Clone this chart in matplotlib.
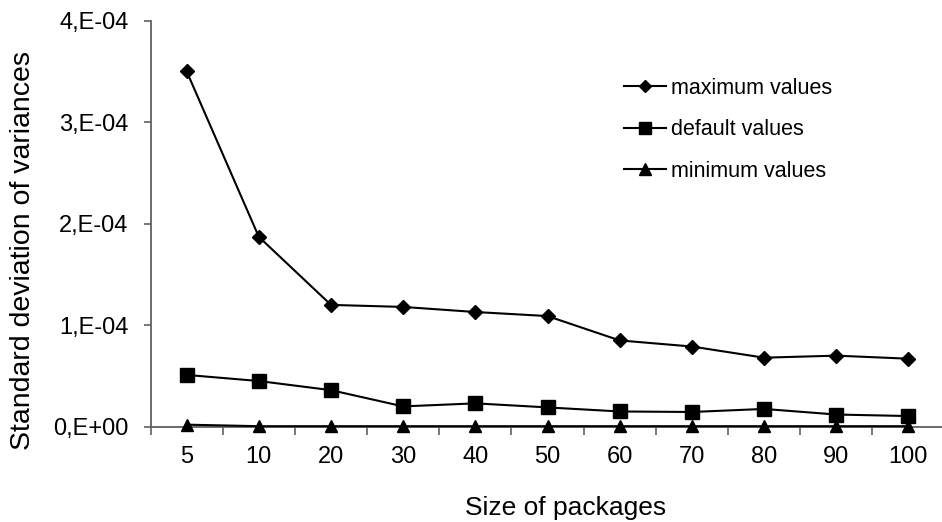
import matplotlib
matplotlib.use("Agg")
import matplotlib.pyplot as plt
from matplotlib.lines import Line2D

plt.rcParams['font.family'] = ['Liberation Sans', 'DejaVu Sans']

categories = ["5", "10", "20", "30", "40", "50", "60", "70", "80", "90", "100"]
max_values = [3.50e-4, 1.87e-4, 1.20e-4, 1.18e-4, 1.13e-4, 1.09e-4, 0.85e-4, 0.79e-4, 0.68e-4, 0.70e-4, 0.67e-4]
default_values = [0.51e-4, 0.45e-4, 0.36e-4, 0.20e-4, 0.23e-4, 0.19e-4, 0.15e-4, 0.145e-4, 0.175e-4, 0.12e-4, 0.105e-4]
min_values = [0.02e-4, 0.005e-4, 0.005e-4, 0.005e-4, 0.005e-4, 0.005e-4, 0.005e-4, 0.005e-4, 0.005e-4, 0.005e-4, 0.005e-4]
y_ticks = [0, 1e-4, 2e-4, 3e-4, 4e-4]
y_tick_labels = ["0,E+00", "1,E-04", "2,E-04", "3,E-04", "4,E-04"]
series_names = ["maximum values", "default values", "minimum values"]

W, H = 942, 522
fig = plt.figure(figsize=(W / 100, H / 100), dpi=100)
left, right, top, bottom = 150.6, 944.4, 20.7, 426.7
ax = fig.add_axes([left / W, 1 - bottom / H, (right - left) / W, (bottom - top) / H])

x = list(range(len(categories)))
ax.plot(x, max_values, color='black', lw=1.5, marker='D', ms=7.5, clip_on=False, zorder=3)
ax.plot(x, default_values, color='black', lw=1.5, marker='s', ms=9.5, clip_on=False, zorder=3)
ax.plot(x, min_values, color='black', lw=1.5, marker='^', ms=9, clip_on=False, zorder=3)

ax.set_xlim(-0.5, len(categories) - 0.5)
ax.set_ylim(0, 4e-4)
ax.set_yticks(y_ticks)
ax.set_yticklabels(y_tick_labels, fontsize=17)

# category boundaries as major ticks, labels as minor ticks
ax.set_xticks([i - 0.5 for i in range(len(categories) + 1)])
ax.set_xticklabels([])
ax.set_xticks(x, minor=True)
ax.set_xticklabels(categories, minor=True, fontsize=17)
ax.tick_params(axis='x', which='minor', length=0, pad=14)
ax.tick_params(axis='x', which='major', length=6, width=1.2, color='#606060', direction='out')
ax.tick_params(axis='y', length=5, width=1.2, color='#606060', direction='out', pad=11)

for s in ['top', 'right']:
    ax.spines[s].set_visible(False)
for s in ['left', 'bottom']:
    ax.spines[s].set_color('#606060')
    ax.spines[s].set_linewidth(1.3)

fig.text(23 / W, 1 - 250 / H, "Standard deviation of variances", rotation=90,
         ha='center', va='center', fontsize=20.5)
fig.text(566 / W, 1 - 508 / H, "Size of packages", ha='center', va='center', fontsize=19)

handles = [
    Line2D([], [], color='black', lw=1.5, marker='D', ms=6),
    Line2D([], [], color='black', lw=1.5, marker='s', ms=8),
    Line2D([], [], color='black', lw=1.5, marker='^', ms=8),
]
leg = fig.legend(handles, series_names, loc='upper left',
                 bbox_to_anchor=(624 / W, 1 - 78 / H), frameon=False,
                 fontsize=15.5, handlelength=1.95, handletextpad=0.25,
                 labelspacing=0.95, borderaxespad=0, borderpad=0)

fig.savefig("out.png", dpi=100)
